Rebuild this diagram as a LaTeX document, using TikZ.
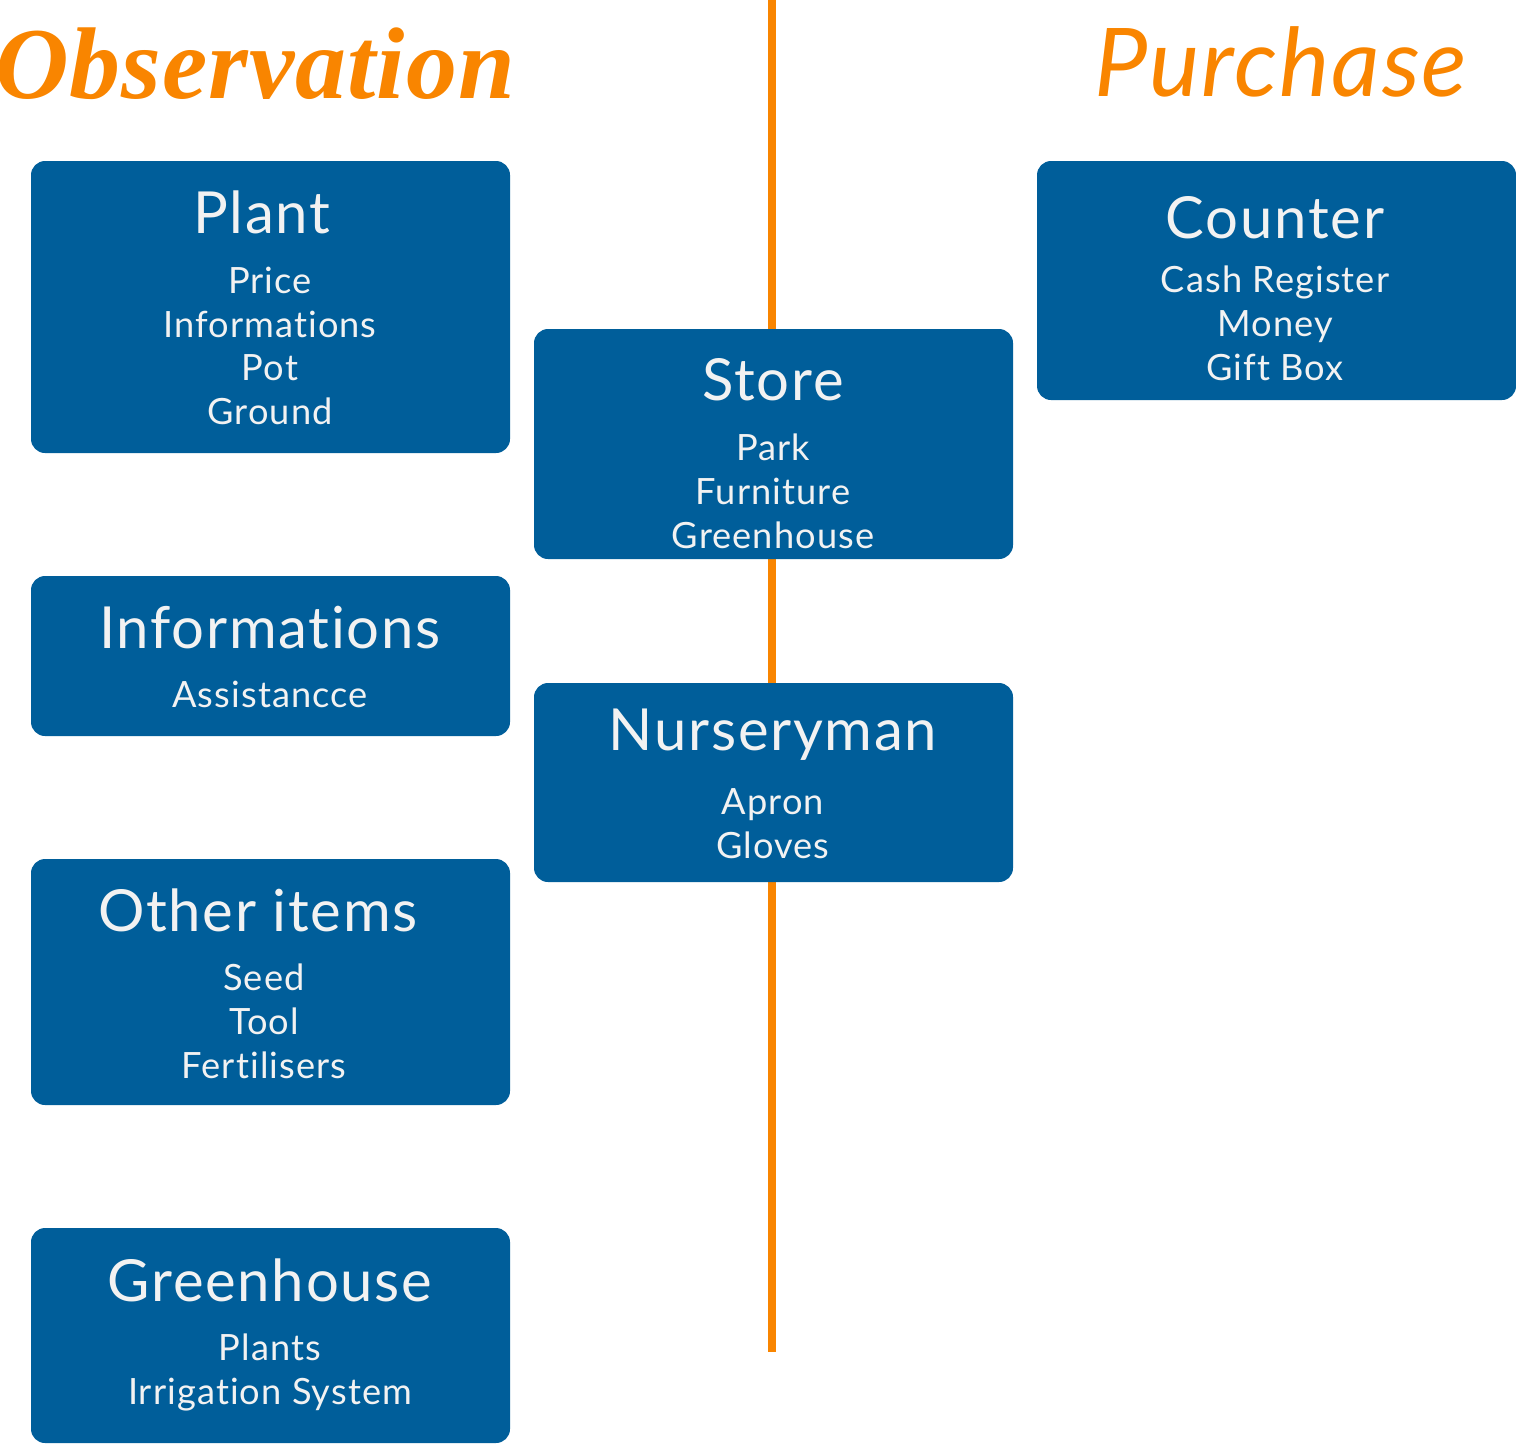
\documentclass[tikz,border=0pt]{standalone}
\usepackage{fontspec}
\setmainfont{Lato}
\newfontfamily\boxfont[LetterSpace=3,Ligatures=NoCommon]{Lato}
\newfontfamily\obsfont[LetterSpace=1]{Liberation Serif}
\newfontfamily\purfont[LetterSpace=2,Ligatures=NoCommon]{Lato}
\definecolor{boxblue}{HTML}{005E9A}
\definecolor{lineorange}{HTML}{F98500}
\definecolor{boxtext}{HTML}{F2F2F2}
\tikzset{
  box/.style={fill=boxblue, rounded corners=4pt, minimum width=4.79cm, inner sep=0pt},
  head/.style={text=boxtext, font=\boxfont\fontsize{16.5}{18}\selectfont, inner sep=0pt},
  items/.style={text=boxtext, font=\boxfont\fontsize{10.3}{12.5}\selectfont, align=center, inner sep=0pt, anchor=north},
  bigtitle/.style={text=lineorange, inner sep=0pt}
}
\begin{document}
\begin{tikzpicture}
  \useasboundingbox (0,0) rectangle (15.16,-14.43);
  % timeline
  \coordinate (top) at (7.72,0);
  \coordinate (bottom) at (7.72,-13.52);
  \draw[lineorange, line width=2.3pt] (top) -- (bottom);
  % titles
  \node[bigtitle, font=\obsfont\bfseries\itshape\fontsize{29}{32}\selectfont] (obs) at (2.55,-0.64) {Observation};
  \node[bigtitle, font=\purfont\itshape\fontsize{27}{30}\selectfont] (pur) at (12.81,-0.62) {Purchase};
  % left column
  \node[box, minimum height=2.92cm] (plant) at (2.705,-3.07) {};
  \node[head] (plant-t) at (2.62,-2.12) {Plant};
  \node[items] (plant-i) at (2.70,-2.66) {Price\\Informations\\Pot\\Ground};
  \node[box, minimum height=1.60cm] (info) at (2.705,-6.56) {};
  \node[head] (info-t) at (2.70,-6.28) {Informations};
  \node[items] (info-i) at (2.70,-6.80) {Assistancce};
  \node[box, minimum height=2.46cm] (other) at (2.705,-9.82) {};
  \node[head] (other-t) at (2.58,-9.10) {Other items};
  \node[items] (other-i) at (2.64,-9.63) {Seed\\Tool\\Fertilisers};
  \node[box, minimum height=2.15cm] (green) at (2.705,-13.355) {};
  \node[head] (green-t) at (2.70,-12.80) {Greenhouse};
  \node[items] (green-i) at (2.70,-13.33) {Plants\\Irrigation System};
  % middle column
  \node[box, minimum height=2.30cm] (store) at (7.735,-4.44) {};
  \node[head] (store-t) at (7.73,-3.80) {Store};
  \node[items] (store-i) at (7.73,-4.33) {Park\\Furniture\\Greenhouse};
  \node[box, minimum height=1.99cm] (nurse) at (7.735,-7.825) {};
  \node[head] (nurse-t) at (7.73,-7.35) {Nurseryman};
  \node[items] (nurse-i) at (7.73,-7.88) {Apron\\Gloves};
  % right column
  \node[box, minimum height=2.39cm] (counter) at (12.765,-2.805) {};
  \node[head] (counter-t) at (12.75,-2.18) {Counter};
  \node[items] (counter-i) at (12.75,-2.65) {Cash Register\\Money\\Gift Box};
\end{tikzpicture}
\end{document}
